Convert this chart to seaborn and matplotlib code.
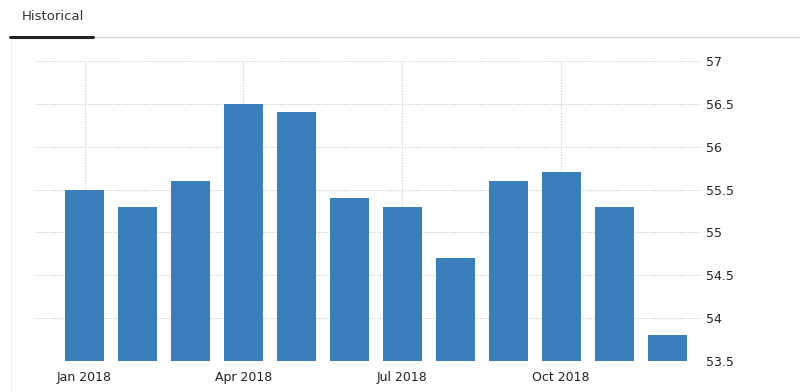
import matplotlib
matplotlib.use("Agg")
import matplotlib.pyplot as plt
from matplotlib.lines import Line2D
import seaborn as sns
import pandas as pd

months = ["Jan 2018", "Feb 2018", "Mar 2018", "Apr 2018", "May 2018", "Jun 2018",
          "Jul 2018", "Aug 2018", "Sep 2018", "Oct 2018", "Nov 2018", "Dec 2018"]
values = [55.5, 55.3, 55.6, 56.5, 56.4, 55.4, 55.3, 54.7, 55.6, 55.7, 55.3, 53.8]
tick_labels = ["Jan 2018", "Apr 2018", "Jul 2018", "Oct 2018"]
y_ticks = [53.5, 54, 54.5, 55, 55.5, 56, 56.5, 57]

sns.set_theme(style="white")
plt.rcParams['font.family'] = ['DejaVu Sans']

df = pd.DataFrame({"month": months, "value": values})

fig = plt.figure(figsize=(8, 3.92), dpi=100)
ax = fig.add_axes([35/800, 1-361/392, (700-35)/800, 300/392])

sns.barplot(data=df, x="month", y="value", color="#3a7ebb", width=0.74,
            saturation=1, linewidth=0, edgecolor="none", ax=ax, zorder=3)

ax.set_ylim(53.5, 57)
ax.set_xlim(-0.935, 11.62)
ax.set_yticks(y_ticks)
ax.set_yticklabels([f"{v:g}" for v in y_ticks])
ax.yaxis.tick_right()
ax.tick_params(axis="y", length=0, labelsize=9, colors="#222222", pad=4)

pos = [months.index(t) for t in tick_labels]
ax.set_xticks(pos)
ax.set_xticklabels(tick_labels)
ax.tick_params(axis="x", length=4, width=0.8, color="#cccccc", labelsize=9,
               labelcolor="#222222", pad=3)

ax.grid(True, axis="both", linestyle=(0, (1, 1.5)), color="#c8c8c8", linewidth=0.8, zorder=0)
ax.set_axisbelow(True)
for s in ax.spines.values():
    s.set_visible(False)
ax.set_xlabel("")
ax.set_ylabel("")

# header
fig.text(22/800, 1-17/392, "Historical", fontsize=9.5, color="#333333", va="center", ha="left")
fig.add_artist(Line2D([93/800, 1], [1-37/392, 1-37/392], color="#dddddd", linewidth=1))
fig.add_artist(Line2D([10/800, 93/800], [1-37/392, 1-37/392], color="#222222", linewidth=2.2))
fig.add_artist(Line2D([11/800, 11/800], [0, 1-40/392], color="#f2f2f2", linewidth=1))

fig.savefig("out.png", dpi=100)
